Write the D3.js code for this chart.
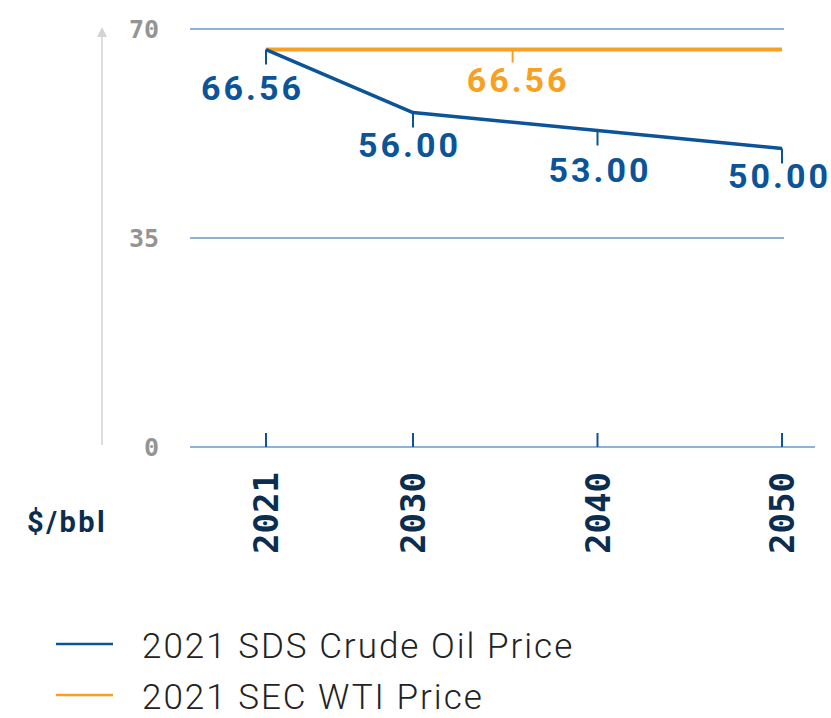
<!DOCTYPE html>
<html>
<head>
<meta charset="utf-8">
<script src="https://cdn.jsdelivr.net/npm/d3@7"></script>
<style>
  body { margin: 0; background: #fff; }
  svg { display: block; }
</style>
</head>
<body>
<div id="chart"></div>
<script>
// data
const years = [2021, 2030, 2040, 2050];
const sdsPrice = [66.56, 56.00, 53.00, 50.00];
const wtiPrice = [66.56, 66.56, 66.56, 66.56];
const yTicks = [0, 35, 70];
const seriesNames = ['2021 SDS Crude Oil Price', '2021 SEC WTI Price'];
const unitLabel = '$/bbl';

const width = 831, height = 718;
const blue = '#0b5499', orange = '#f7a021', navy = '#0b2d4f';
const gridColor = '#8fb2d6';

const svg = d3.select('#chart').append('svg')
  .attr('width', width).attr('height', height);

// the year spacing in the source is not even between 2021 and 2030
const x = d3.scaleLinear().domain([2021, 2030, 2050]).range([266, 413, 782]);
const y = d3.scaleLinear().domain([0, 70]).range([447, 29]);

// gridlines
svg.append('g').selectAll('line')
  .data(yTicks.filter(d => d > 0))
  .enter().append('line')
  .attr('x1', 190).attr('x2', 784)
  .attr('y1', d => y(d)).attr('y2', d => y(d))
  .attr('stroke', gridColor).attr('stroke-width', 2);

// baseline
svg.append('line')
  .attr('x1', 190).attr('x2', 815)
  .attr('y1', y(0)).attr('y2', y(0))
  .attr('stroke', gridColor).attr('stroke-width', 2);

// y tick labels
svg.append('g').selectAll('text')
  .data(yTicks)
  .enter().append('text')
  .attr('x', 159).attr('y', d => y(d) + 9)
  .attr('text-anchor', 'end')
  .style('font-family', '"DejaVu Sans Mono", monospace')
  .style('font-weight', 'bold')
  .style('font-size', '25px')
  .attr('fill', '#949494')
  .text(d => d);

// vertical arrow at left
svg.append('line')
  .attr('x1', 102).attr('x2', 102)
  .attr('y1', 445).attr('y2', 34)
  .attr('stroke', '#d3d3d3').attr('stroke-width', 1.5);
svg.append('path')
  .attr('d', 'M97,37 L102,27 L107,37 Z')
  .attr('fill', '#d3d3d3');

// x ticks
svg.append('g').selectAll('line')
  .data(years)
  .enter().append('line')
  .attr('x1', d => x(d)).attr('x2', d => x(d))
  .attr('y1', 433).attr('y2', y(0))
  .attr('stroke', blue).attr('stroke-width', 2);

// x tick labels (rotated)
svg.append('g').selectAll('text')
  .data(years)
  .enter().append('text')
  .attr('transform', d => `translate(${x(d)},472) rotate(-90)`)
  .attr('text-anchor', 'end')
  .attr('dy', '0.36em')
  .style('font-family', '"DejaVu Sans Mono", monospace')
  .style('font-weight', 'bold')
  .style('font-size', '34px')
  .attr('fill', navy)
  .text(d => d);

// unit label
svg.append('text')
  .attr('x', 27).attr('y', 532)
  .style('font-family', 'Roboto, sans-serif')
  .style('font-weight', 'bold')
  .style('font-size', '29px')
  .style('letter-spacing', '2.5px')
  .attr('fill', navy)
  .text(unitLabel);

const line = d3.line().x((d, i) => x(years[i])).y(d => y(d));

// WTI flat line
svg.append('path')
  .datum(wtiPrice)
  .attr('d', line)
  .attr('fill', 'none')
  .attr('stroke', orange).attr('stroke-width', 4);

// SDS line
svg.append('path')
  .datum(sdsPrice)
  .attr('d', line)
  .attr('fill', 'none')
  .attr('stroke', blue).attr('stroke-width', 3.5)
  .attr('stroke-linejoin', 'round');

// SDS label ticks and labels
const sdsLabelShift = [[-15, 50], [-5, 44], [1, 51], [-4, 40]];
svg.append('g').selectAll('line')
  .data(sdsPrice)
  .enter().append('line')
  .attr('x1', (d, i) => x(years[i])).attr('x2', (d, i) => x(years[i]))
  .attr('y1', d => y(d)).attr('y2', d => y(d) + 15)
  .attr('stroke', blue).attr('stroke-width', 2);

const labelFont = sel => sel
  .style('font-family', 'Roboto, sans-serif')
  .style('font-weight', 'bold')
  .style('font-size', '34px')
  .style('letter-spacing', '3px');

svg.append('g').selectAll('text')
  .data(sdsPrice)
  .enter().append('text')
  .attr('x', (d, i) => x(years[i]) + sdsLabelShift[i][0] + 1.5)
  .attr('y', (d, i) => y(d) + sdsLabelShift[i][1])
  .attr('text-anchor', 'middle')
  .attr('fill', blue)
  .call(labelFont)
  .text(d => d.toFixed(2));

// WTI label, placed between 2030 and 2040
const wtiLabelYear = 2035.4;
svg.append('line')
  .attr('x1', x(wtiLabelYear)).attr('x2', x(wtiLabelYear))
  .attr('y1', y(wtiPrice[0])).attr('y2', y(wtiPrice[0]) + 13)
  .attr('stroke', orange).attr('stroke-width', 2);
svg.append('text')
  .attr('x', x(wtiLabelYear) + 5.5)
  .attr('y', y(wtiPrice[0]) + 42)
  .attr('text-anchor', 'middle')
  .attr('fill', orange)
  .call(labelFont)
  .text(wtiPrice[0].toFixed(2));

// legend
const legend = svg.append('g').selectAll('g')
  .data(seriesNames)
  .enter().append('g')
  .attr('transform', (d, i) => `translate(0,${644 + i * 51})`);
legend.append('line')
  .attr('x1', 56).attr('x2', 113)
  .attr('stroke', (d, i) => i === 0 ? blue : orange)
  .attr('stroke-width', 2.5);
legend.append('text')
  .attr('x', 142).attr('y', 14)
  .style('font-family', 'Roboto, sans-serif')
  .style('font-weight', 300)
  .style('font-size', '35px')
  .style('letter-spacing', '2px')
  .attr('fill', '#222')
  .text(d => d);
</script>
</body>
</html>
